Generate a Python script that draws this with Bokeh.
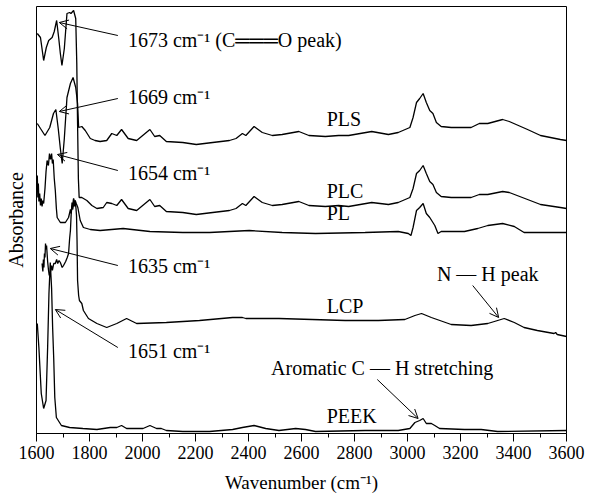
from bokeh.plotting import figure
from bokeh.models import Range1d, Arrow, OpenHead, Label, FixedTicker
from bokeh.embed import file_html
from bokeh.resources import INLINE

# ---------------- data (wavenumber cm^-1, absorbance a.u., offsets included) -------------
plc_wn = [1603, 1615, 1627, 1637, 1646, 1659, 1667, 1676, 1684, 1690, 1696, 1705, 1715, 1725,
          1730, 1740, 1748, 1752, 1755, 1758, 1761, 1771, 1790, 1809, 1828, 1852, 1865, 1884,
          1903, 1921, 1946, 1978, 2028, 2046, 2065, 2090, 2152, 2203, 2265, 2328, 2353, 2377,
          2390, 2421, 2452, 2490, 2527, 2590, 2628, 2690, 2740, 2778, 2865, 2928, 2965, 3009,
          3021, 3034, 3046, 3059, 3071, 3084, 3096, 3109, 3127, 3165, 3240, 3271, 3303, 3359,
          3384, 3453, 3502, 3577, 3600]
plc_abs = [4.00, 3.96, 3.73, 3.86, 3.93, 3.96, 4.02, 4.13, 3.95, 3.80, 3.68, 3.85, 4.20, 4.21,
           4.20, 4.23, 4.15, 3.70, 3.10, 2.55, 2.36, 2.36, 2.33, 2.28, 2.25, 2.26, 2.31, 2.30,
           2.28, 2.34, 2.25, 2.23, 2.34, 2.27, 2.28, 2.22, 2.21, 2.19, 2.21, 2.23, 2.25, 2.30,
           2.28, 2.37, 2.31, 2.28, 2.29, 2.32, 2.28, 2.27, 2.28, 2.27, 2.31, 2.29, 2.31, 2.36,
           2.45, 2.60, 2.63, 2.68, 2.60, 2.52, 2.49, 2.41, 2.37, 2.36, 2.36, 2.39, 2.39, 2.42,
           2.41, 2.34, 2.29, 2.26, 2.25]

pls_wn = [1603, 1615, 1632, 1650, 1664, 1673, 1682, 1690, 1697, 1705, 1715, 1728, 1738, 1748,
          1755, 1759, 1771, 1784, 1803, 1821, 1840, 1865, 1884, 1903, 1921, 1946, 1978, 2028,
          2046, 2065, 2090, 2152, 2203, 2265, 2328, 2353, 2377, 2390, 2421, 2452, 2490, 2527,
          2590, 2628, 2690, 2740, 2778, 2865, 2928, 2965, 3009, 3021, 3034, 3046, 3059, 3071,
          3084, 3096, 3109, 3127, 3165, 3240, 3271, 3303, 3359, 3384, 3453, 3502, 3577, 3600]
pls_abs = [3.10, 3.05, 2.98, 3.06, 3.20, 3.24, 3.05, 2.85, 2.70, 2.95, 3.36, 3.50, 3.56, 3.46,
           3.30, 3.06, 3.07, 3.03, 2.95, 2.93, 2.92, 2.93, 3.00, 2.98, 3.04, 2.95, 2.93, 3.04,
           2.97, 2.98, 2.92, 2.91, 2.89, 2.91, 2.93, 2.95, 3.00, 2.98, 3.07, 3.01, 2.98, 2.99,
           3.02, 2.98, 2.97, 2.98, 2.98, 3.02, 2.99, 3.01, 3.06, 3.16, 3.31, 3.35, 3.40, 3.31,
           3.23, 3.20, 3.11, 3.07, 3.06, 3.06, 3.10, 3.10, 3.14, 3.12, 3.04, 2.98, 2.94, 2.93]

pl_wn = [1601, 1603, 1605, 1607, 1609, 1612, 1615, 1618, 1621, 1624, 1627, 1632, 1636, 1640,
         1645, 1649, 1653, 1657, 1660, 1663, 1667, 1671, 1675, 1678, 1690, 1709, 1721, 1728,
         1731, 1734, 1737, 1740, 1743, 1746, 1750, 1756, 1765, 1777, 1803, 1840, 1927, 2028,
         2152, 2253, 2403, 2527, 2653, 2840, 2965, 3003, 3013, 3021, 3034, 3046, 3059, 3071,
         3084, 3103, 3115, 3127, 3215, 3265, 3303, 3359, 3403, 3440, 3515, 3600]
pl_abs = [2.45, 2.58, 2.36, 2.50, 2.32, 2.40, 2.28, 2.35, 2.27, 2.33, 2.30, 2.45, 2.62, 2.73,
          2.68, 2.80, 2.74, 2.80, 2.70, 2.74, 2.55, 2.43, 2.25, 2.16, 2.11, 2.11, 2.16, 2.24,
          2.20, 2.31, 2.26, 2.35, 2.28, 2.33, 2.30, 2.26, 2.13, 2.06, 2.04, 2.03, 2.05, 2.02,
          2.01, 2.01, 2.03, 2.01, 2.00, 2.01, 2.02, 2.00, 1.98, 2.06, 2.23, 2.26, 2.30, 2.20,
          2.16, 2.08, 2.00, 2.02, 2.02, 2.05, 2.08, 2.10, 2.07, 2.01, 2.01, 2.01]

lcp_wn = [1621, 1624, 1626, 1628, 1630, 1632, 1634, 1636, 1638, 1642, 1645, 1648, 1653, 1657,
          1660, 1665, 1671, 1676, 1680, 1685, 1690, 1697, 1702, 1710, 1716, 1721, 1725, 1728,
          1731, 1734, 1737, 1740, 1743, 1746, 1749, 1751, 1753, 1755, 1759, 1762, 1771, 1777,
          1796, 1828, 1865, 1903, 1940, 1978, 2090, 2215, 2340, 2377, 2390, 2515, 2640, 2765,
          2890, 2990, 3028, 3053, 3090, 3165, 3240, 3303, 3365, 3403, 3440, 3490, 3553, 3559,
          3565, 3600]
lcp_abs = [1.70, 1.62, 1.74, 1.66, 1.80, 1.76, 1.90, 1.84, 1.88, 1.72, 1.64, 1.58, 1.62, 1.68,
           1.63, 1.70, 1.70, 1.74, 1.70, 1.73, 1.71, 1.66, 1.68, 1.72, 1.76, 1.80, 1.95, 2.03,
           2.20, 2.28, 2.24, 2.35, 2.27, 2.33, 2.25, 2.18, 1.93, 1.53, 1.38, 1.33, 1.30, 1.23,
           1.15, 1.10, 1.06, 1.10, 1.15, 1.10, 1.11, 1.13, 1.16, 1.16, 1.15, 1.15, 1.14, 1.13,
           1.13, 1.14, 1.18, 1.20, 1.16, 1.09, 1.08, 1.10, 1.15, 1.11, 1.06, 1.03, 1.00, 1.01,
           0.99, 0.97]

peek_wn = [1603, 1609, 1618, 1627, 1636, 1642, 1647, 1652, 1657, 1661, 1665, 1669, 1675, 1694,
           1725, 1775, 1828, 1878, 1903, 1921, 1940, 2002, 2028, 2053, 2071, 2090, 2152, 2253,
           2340, 2377, 2421, 2465, 2515, 2578, 2615, 2653, 2840, 2965, 3009, 3028, 3046, 3059,
           3071, 3090, 3103, 3121, 3215, 3278, 3340, 3600]
peek_abs = [1.10, 0.86, 0.40, 0.25, 0.33, 0.86, 1.40, 1.71, 1.45, 1.05, 0.75, 0.36, 0.16, 0.08,
            0.06, 0.05, 0.04, 0.06, 0.06, 0.08, 0.05, 0.05, 0.08, 0.05, 0.05, 0.03, 0.02, 0.02,
            0.04, 0.06, 0.08, 0.05, 0.03, 0.05, 0.04, 0.02, 0.03, 0.03, 0.05, 0.11, 0.13, 0.15,
            0.10, 0.10, 0.08, 0.05, 0.04, 0.04, 0.02, 0.03]

x_ticks = [1600, 1800, 2000, 2200, 2400, 2600, 2800, 3000, 3200, 3400, 3600]
x_minor = [1700, 1900, 2100, 2300, 2500, 2700, 2900, 3100, 3300, 3500]

# ---------------- figure ----------------
SERIF = "Liberation Serif"
p = figure(width=590, height=502, output_backend="svg", toolbar_location=None,
           x_range=Range1d(1600, 3600), y_range=Range1d(0, 4.27),
           min_border_left=36, min_border_right=24, min_border_top=6, min_border_bottom=69)
p.xgrid.visible = False
p.ygrid.visible = False
p.outline_line_color = "black"
p.outline_line_width = 1
p.background_fill_color = "white"
p.border_fill_color = "white"

xa = p.xaxis[0]
xa.ticker = FixedTicker(ticks=x_ticks, minor_ticks=x_minor)
xa.major_tick_out = 8
xa.major_tick_in = 0
xa.minor_tick_out = 4
xa.minor_tick_in = 0
xa.axis_line_color = "black"
xa.major_label_text_font = SERIF
xa.major_label_text_font_size = "18px"
xa.major_label_text_color = "black"
xa.major_label_standoff = 4
xa.axis_label = "Wavenumber (cm\u207b\u00b9)"
xa.axis_label_text_font = SERIF
xa.axis_label_text_font_size = "19px"
xa.axis_label_text_font_style = "normal"
xa.axis_label_text_color = "black"
xa.axis_label_standoff = 10

ya = p.yaxis[0]
ya.ticker = FixedTicker(ticks=[])
ya.major_tick_out = 0
ya.major_tick_in = 0
ya.minor_tick_out = 0
ya.minor_tick_in = 0
ya.axis_line_color = None
ya.major_label_standoff = 0
ya.axis_label = "Absorbance"
ya.axis_label_text_font = SERIF
ya.axis_label_text_font_size = "20px"
ya.axis_label_text_font_style = "normal"
ya.axis_label_text_color = "black"
ya.axis_label_standoff = 10

for wn, ab in [(plc_wn, plc_abs), (pls_wn, pls_abs), (pl_wn, pl_abs),
               (lcp_wn, lcp_abs), (peek_wn, peek_abs)]:
    p.line(wn, ab, line_color="black", line_width=1.3)

# ---------------- annotations ----------------
arrows = [
    (1907, 3.98, 1686, 4.11),
    (1907, 3.35, 1686, 3.22),
    (1907, 2.63, 1679, 2.79),
    (1907, 1.68, 1652, 1.85),
    (1907, 0.86, 1671, 1.24),
    (3246, 1.48, 3344, 1.16),
    (2886, 0.54, 3040, 0.15),
]
for xs, ys, xe, ye in arrows:
    p.add_layout(Arrow(x_start=xs, y_start=ys, x_end=xe, y_end=ye,
                       line_color="black", line_width=1,
                       end=OpenHead(size=9, line_color="black", line_width=1)))

texts = [
    ("1673 cm\u207b\u00b9 (C\u2550\u2550\u2550O peak)", 1945, 3.94),
    ("1669 cm\u207b\u00b9", 1945, 3.37),
    ("1654 cm\u207b\u00b9", 1945, 2.61),
    ("1635 cm\u207b\u00b9", 1945, 1.68),
    ("1651 cm\u207b\u00b9", 1945, 0.83),
    ("N \u2014 H peak", 3111, 1.60),
    ("Aromatic C \u2014 H stretching", 2485, 0.66),
    ("PLS", 2695, 3.15),
    ("PLC", 2695, 2.43),
    ("PL", 2695, 2.21),
    ("LCP", 2695, 1.28),
    ("PEEK", 2695, 0.18),
]
for t, x, y in texts:
    p.add_layout(Label(x=x, y=y, text=t, text_font=SERIF, text_font_size="20px",
                       text_color="black", text_align="left", text_baseline="middle"))

open("out.html", "w").write(file_html(p, INLINE))
